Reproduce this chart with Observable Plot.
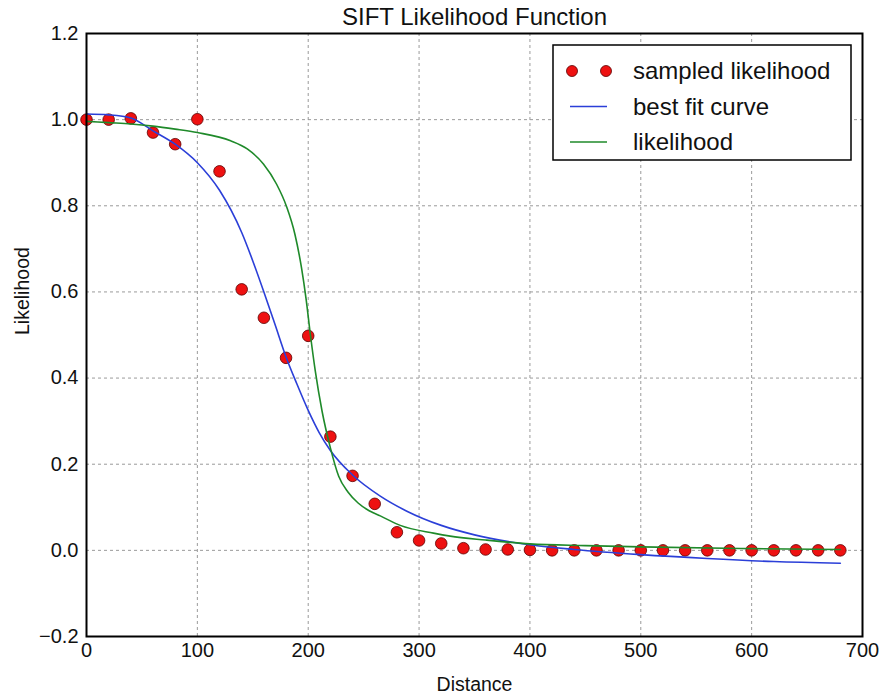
<!DOCTYPE html>
<html><head><meta charset="utf-8">
<script src="https://cdn.jsdelivr.net/npm/d3@7"></script>
<script src="https://cdn.jsdelivr.net/npm/@observablehq/plot@0.6"></script>
<style>body{margin:0;background:#fff} #chart{width:882px;height:698px}</style>
</head><body><div id="chart"></div>
<script>
const title = "SIFT Likelihood Function";
const xLabel = "Distance";
const yLabel = "Likelihood";
const xTicks = [0, 100, 200, 300, 400, 500, 600, 700];
const yTicks = [-0.2, 0.0, 0.2, 0.4, 0.6, 0.8, 1.0, 1.2];

// sampled likelihood (red markers)
const sampleX = [0,20,40,60,80,100,120,140,160,180,200,220,240,260,280,300,320,340,360,380,400,420,440,460,480,500,520,540,560,580,600,620,640,660,680];
const sampleY = [1.0,1.0,1.003,0.97,0.943,1.001,0.88,0.606,0.54,0.447,0.498,0.264,0.173,0.108,0.042,0.023,0.016,0.005,0.002,0.002,0.001,0.0,0.0,0.0,0.0,0.0,0.0,0.0,0.0,0.0,0.0,0.0,0.0,0.0,0.0];

// best fit curve (blue)
const fitX = [0,20,40,60,80,100,120,140,150,160,170,180,190,200,210,220,240,265,289,320,350,400,440,500,560,620,680];
const fitY = [1.013,1.011,1.004,0.974,0.943,0.90,0.836,0.738,0.672,0.600,0.525,0.449,0.385,0.325,0.273,0.232,0.175,0.126,0.091,0.058,0.036,0.013,0.002,-0.010,-0.019,-0.026,-0.030];

// likelihood (green)
const likX = [0,20,40,60,80,100,130,145,159.6,171.5,180.5,188,194,198,202,206.4,212.5,220,227.5,236,245,255,265,283,313,328,360,400,450,500,600,680];
const likY = [0.996,0.993,0.99,0.985,0.978,0.970,0.951,0.932,0.897,0.850,0.798,0.734,0.655,0.585,0.500,0.416,0.323,0.238,0.172,0.135,0.110,0.092,0.080,0.058,0.040,0.033,0.024,0.015,0.011,0.008,0.004,0.002];

const samples = sampleX.map((x, i) => ({x, y: sampleY[i]}));
const fit = fitX.map((x, i) => ({x, y: fitY[i]}));
const lik = likX.map((x, i) => ({x, y: likY[i]}));

const FONT = "'Liberation Sans', Arial, Helvetica, sans-serif";
const RED = "#ee1111", BLUE = "#2b3fd8", GREEN = "#1f8a2a";

const svg = Plot.plot({
  width: 882, height: 698,
  marginLeft: 86, marginRight: 20, marginTop: 33, marginBottom: 62,
  style: {fontFamily: FONT, background: "white", color: "#111"},
  x: {domain: [0, 700]},
  y: {domain: [-0.2, 1.2]},
  marks: [
    Plot.gridX(xTicks, {stroke: "#9a9a9a", strokeOpacity: 1, strokeDasharray: "3,3", strokeWidth: 1}),
    Plot.gridY(yTicks, {stroke: "#9a9a9a", strokeOpacity: 1, strokeDasharray: "3,3", strokeWidth: 1}),
    Plot.axisX(xTicks, {tickSize: 0, tickPadding: 6, fontSize: 20, label: null, tickFormat: d => String(d)}),
    Plot.axisY(yTicks, {tickSize: 0, tickPadding: 8, fontSize: 20, label: null, tickFormat: d3.format(".1f")}),
    Plot.dot(samples, {x: "x", y: "y", r: 5.8, fill: RED, stroke: "#5a0000", strokeWidth: 0.8}),
    Plot.line(fit, {x: "x", y: "y", stroke: BLUE, strokeWidth: 1.6, curve: "monotone-x"}),
    Plot.line(lik, {x: "x", y: "y", stroke: GREEN, strokeWidth: 1.6, curve: "monotone-x"}),
    Plot.frame({stroke: "#000", strokeWidth: 2}),
    Plot.text([title], {text: d => d, frameAnchor: "top", dy: -16, fontSize: 24, lineAnchor: "middle", fill: "#111"}),
    Plot.text([xLabel], {text: d => d, frameAnchor: "bottom", dy: 48, fontSize: 19.5, lineAnchor: "middle", fill: "#111"}),
    Plot.text([yLabel], {text: d => d, frameAnchor: "left", dx: -64, rotate: -90, fontSize: 19.5, lineAnchor: "middle", fill: "#111"})
  ]
});

// legend box
const g = d3.select(svg).append("g").attr("font-family", FONT).attr("font-size", 24)
  .attr("fill", "#111").attr("text-anchor", "start");
g.append("rect").attr("x", 553).attr("y", 45).attr("width", 298).attr("height", 115)
  .attr("fill", "white").attr("stroke", "#000").attr("stroke-width", 1.5);
const entries = [
  {label: "sampled likelihood", type: "dot", color: RED},
  {label: "best fit curve", type: "line", color: BLUE},
  {label: "likelihood", type: "line", color: GREEN}
];
entries.forEach((e, i) => {
  const cy = 71 + i * 35.5;
  if (e.type === "dot") {
    [572, 606].forEach(cx => g.append("circle").attr("cx", cx).attr("cy", cy).attr("r", 5.5)
      .attr("fill", e.color).attr("stroke", "#5a0000").attr("stroke-width", 0.8));
  } else {
    g.append("line").attr("x1", 570).attr("x2", 607).attr("y1", cy).attr("y2", cy)
      .attr("stroke", e.color).attr("stroke-width", 1.6);
  }
  g.append("text").attr("x", 633).attr("y", cy).attr("dy", "0.35em").attr("text-anchor", "start").text(e.label);
});

document.getElementById("chart").appendChild(svg);
</script>
</body></html>
